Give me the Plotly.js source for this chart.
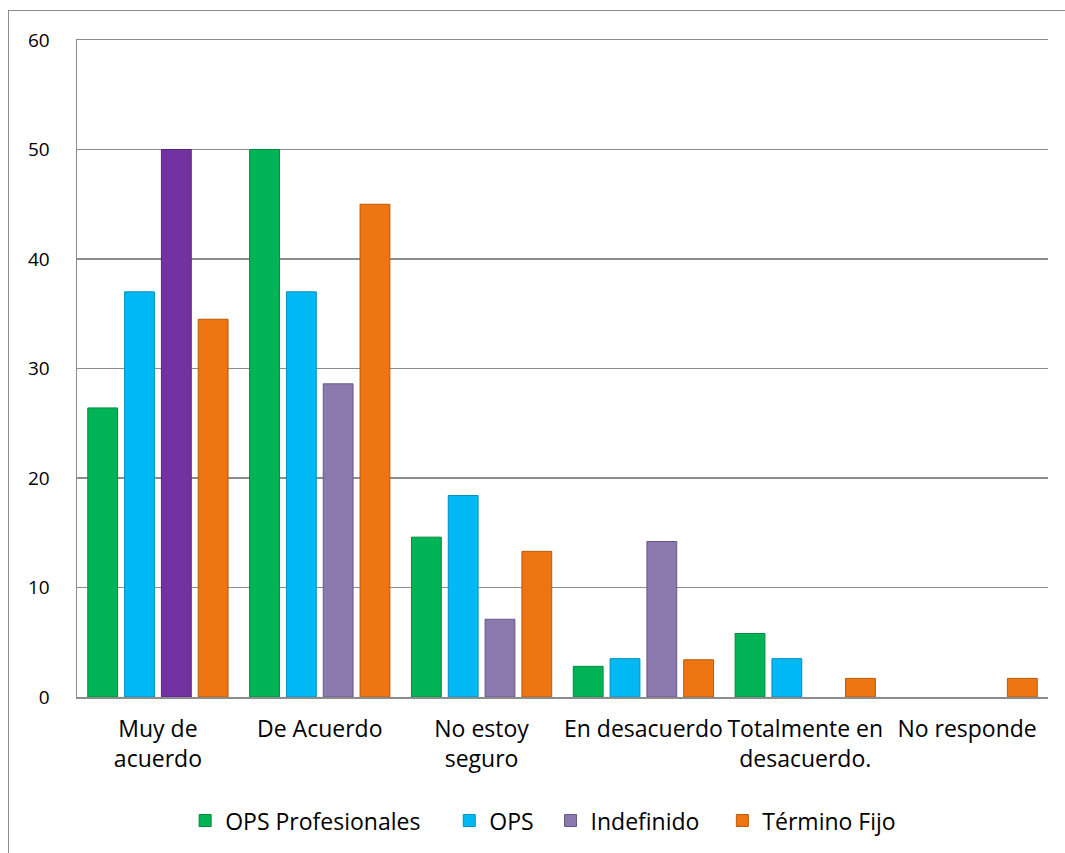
<!DOCTYPE html>
<html>
<head>
<meta charset="utf-8">
<script src="https://cdn.plot.ly/plotly-3.0.1.min.js"></script>
<style>
  html, body { margin: 0; padding: 0; background: #fff; overflow: hidden; }
  #chart { position: absolute; left: 0; top: 0; width: 1065px; height: 853px; }
  #frame { position: absolute; left: 8px; top: 10px; width: 1100px; height: 900px;
           border: 1.5px solid #8c8c8c; pointer-events: none; }
</style>
</head>
<body>
<div id="chart"></div>
<div id="frame"></div>
<script>
// Survey answer categories (x axis)
const categories = [
  "Muy de<br>acuerdo",
  "De Acuerdo",
  "No estoy<br>seguro",
  "En desacuerdo",
  "Totalmente en<br>desacuerdo.",
  "No responde"
];

// Percentages per contract type
const opsProfesionales = [26.4, 50.0, 14.6, 2.8, 5.8, 0];
const ops              = [37.0, 37.0, 18.4, 3.5, 3.5, 0];
const indefinido       = [50.0, 28.6, 7.1, 14.2, 0, 0];
const terminoFijo      = [34.5, 45.0, 13.3, 3.4, 1.7, 1.7];

const seriesNames = ["OPS Profesionales", "OPS", "Indefinido", "Término Fijo"];

const FONT = "'Open Sans', 'Noto Sans', sans-serif";

// extra spacing after each legend label (non-breaking spaces)
function padded(name, n) { return name + "\u00a0".repeat(n); }

function barTrace(name, values, color, edge, group) {
  return {
    type: "bar",
    name: name,
    x: categories,
    y: values,
    offsetgroup: group,
    marker: {
      color: color,
      // zero-height bars get no outline so they stay invisible
      line: { color: edge, width: values.map(v => v > 0 ? 1 : 0) }
    },
    hoverinfo: "skip"
  };
}

// The first Indefinido bar is drawn in a deeper purple than the rest of its series
const indefColors = indefinido.map((v, i) => i === 0 ? "#7332a2" : "#8b78ad");
const indefEdges  = indefinido.map((v, i) => i === 0 ? "#5a2380" : "#66578a");

const indefTrace = barTrace(seriesNames[2], indefinido, indefColors, indefEdges, "c");
indefTrace.showlegend = false;
indefTrace.legendgroup = "indef";

// Legend entry for Indefinido in the series' regular lavender colour
const indefLegend = {
  type: "bar",
  name: padded(seriesNames[2], 3),
  x: categories,
  y: categories.map(() => null),
  offsetgroup: "c",
  legendgroup: "indef",
  marker: { color: "#8b78ad", line: { color: "#66578a", width: 1 } },
  hoverinfo: "skip"
};

const data = [
  barTrace(padded(seriesNames[0], 4), opsProfesionales, "#00b354", "#008a3f", "a"),
  barTrace(padded(seriesNames[1], 2), ops, "#00b9f4", "#0090c0", "b"),
  indefTrace,
  indefLegend,
  barTrace(seriesNames[3], terminoFijo, "#ef7412", "#b85a0c", "d")
];

const layout = {
  width: 1065,
  height: 853,
  margin: { l: 77, r: 17, t: 40, b: 156 },
  paper_bgcolor: "#ffffff",
  plot_bgcolor: "#ffffff",
  barmode: "group",
  bargap: 0.09,
  bargroupgap: 0.19,
  font: { family: FONT, color: "#000000" },
  showlegend: true,
  legend: {
    orientation: "h",
    xref: "container",
    yref: "container",
    x: 0.51,
    xanchor: "center",
    y: 0.038,
    yanchor: "middle",
    font: { family: FONT, size: 23, color: "#000" },
    traceorder: "normal",
    itemwidth: 30
  },
  xaxis: {
    type: "category",
    showgrid: false,
    showline: true,
    mirror: true,
    linecolor: "#8c8c8c",
    linewidth: 1.5,
    ticks: "",
    tickfont: { family: FONT, size: 23, color: "#000" },
    ticklabelstandoff: 11,
    fixedrange: true
  },
  yaxis: {
    range: [0, 60],
    dtick: 10,
    showgrid: true,
    gridcolor: "#8c8c8c",
    gridwidth: 1.5,
    zeroline: false,
    showline: true,
    linecolor: "#8c8c8c",
    linewidth: 1.5,
    ticks: "",
    tickfont: { family: FONT, size: 19, color: "#000" },
    ticklabelstandoff: 22,
    fixedrange: true
  }
};

Plotly.newPlot("chart", data, layout, { displayModeBar: false, staticPlot: true });
</script>
</body>
</html>
